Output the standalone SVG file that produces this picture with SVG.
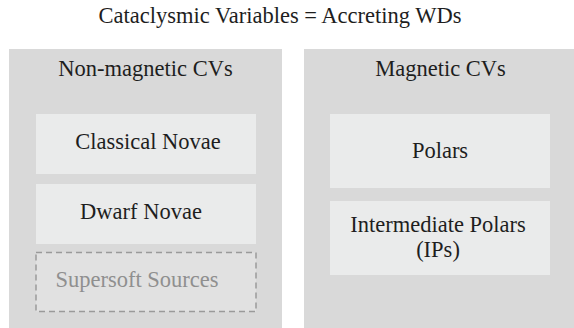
<svg xmlns="http://www.w3.org/2000/svg" width="574" height="328" viewBox="0 0 574 328">
<style>
text{font-family:"Liberation Serif","Times New Roman",Times,serif;fill:#1e1e1e;text-anchor:middle;font-size:22.5px}
.panel{fill:#d9d9d9}
.box{fill:#eaebeb}
.dash{fill:#e1e1e1;stroke:#9a9a9a;stroke-width:1.5;stroke-dasharray:6 4}
.muted{fill:#8f8f8f}
</style>
<rect width="574" height="328" fill="#ffffff"/>
<g id="title"><text x="280" y="23">Cataclysmic Variables = Accreting WDs</text></g>
<g id="nonmagnetic">
<rect class="panel" x="9" y="49" width="273" height="279"/>
<text x="145.5" y="76">Non-magnetic CVs</text>
</g>
<g id="magnetic">
<rect class="panel" x="304" y="49" width="273" height="279"/>
<text x="440.5" y="76">Magnetic CVs</text>
</g>
<g id="classical-novae">
<rect class="box" x="36" y="114" width="220" height="60"/>
<text x="148" y="149">Classical Novae</text>
</g>
<g id="dwarf-novae">
<rect class="box" x="36" y="184" width="220" height="60"/>
<text x="141" y="218.5">Dwarf Novae</text>
</g>
<g id="supersoft-sources">
<rect class="dash" x="36" y="252.5" width="220" height="59"/>
<text class="muted" x="137" y="287">Supersoft Sources</text>
</g>
<g id="polars">
<rect class="box" x="330" y="114" width="220" height="74"/>
<text x="440" y="158">Polars</text>
</g>
<g id="intermediate-polars">
<rect class="box" x="330" y="201" width="220" height="74"/>
<text x="438" y="232">Intermediate Polars</text>
<text x="438" y="257">(IPs)</text>
</g>
<g id="connectors"></g>
</svg>
